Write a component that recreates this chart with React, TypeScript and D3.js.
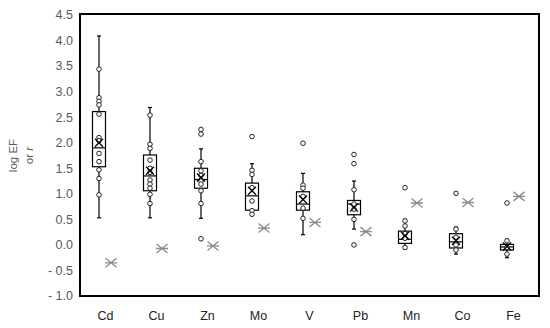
import React from 'react';
import * as d3 from 'd3';

// values
const elements = ['Cd', 'Cu', 'Zn', 'Mo', 'V', 'Pb', 'Mn', 'Co', 'Fe'];
const whiskerLow = [0.53, 0.53, 0.52, 0.59, 0.2, 0.31, -0.08, -0.18, -0.25];
const q1 = [1.53, 1.06, 1.11, 0.68, 0.68, 0.59, 0.03, -0.06, -0.1];
const medians = [1.9, 1.35, 1.28, 0.96, 0.8, 0.8, 0.11, 0.06, -0.04];
const q3 = [2.61, 1.76, 1.5, 1.21, 1.04, 0.87, 0.27, 0.22, 0.01];
const whiskerHigh = [4.09, 2.69, 1.88, 1.59, 1.4, 1.25, 0.5, 0.35, 0.11];
const means = [2.0, 1.45, 1.32, 1.06, 0.89, 0.73, 0.18, 0.08, -0.03];
const correlation = [-0.35, -0.07, -0.02, 0.33, 0.44, 0.26, 0.82, 0.83, 0.95];
const samplePoints = [
  [3.44, 2.88, 2.81, 2.74, 2.56, 2.1, 2.04, 1.79, 1.63, 1.47, 1.3, 0.98],
  [2.54, 1.97, 1.89, 1.66, 1.5, 1.42, 1.27, 1.19, 1.11, 0.99, 0.81],
  [2.26, 2.17, 1.63, 1.45, 1.36, 1.25, 1.19, 1.06, 0.81, 0.12],
  [2.12, 1.46, 1.38, 1.12, 0.86, 0.67, 0.6],
  [1.99, 1.17, 1.11, 0.95, 0.72, 0.52],
  [1.77, 1.59, 1.08, 0.8, 0.7, 0.5, 0.0],
  [1.12, 0.47, 0.37, 0.22, 0.13, -0.05],
  [1.01, 0.31, 0.15, 0.0, -0.1],
  [0.82, 0.08, -0.05, -0.18],
];
const yTicks = [-1, -0.5, 0, 0.5, 1, 1.5, 2, 2.5, 3, 3.5, 4, 4.5];

const W = 550;
const H = 328;
const left = 80;
const right = 539;
const top = 15;
const bottom = 296;
const font = '"Liberation Sans", Arial, sans-serif';

function fmt(v: number) {
  const s = Math.abs(v).toFixed(1);
  return v < 0 ? '- ' + s : s;
}

export default function App() {
  const x = d3.scaleBand().domain(elements).range([left, right]).padding(0);
  const y = d3.scaleLinear().domain([-1, 4.5]).range([bottom, top]);
  const bw = x.bandwidth();
  const boxW = 13;

  return (
    <svg width={W} height={H} style={{ position: 'absolute', left: 0, top: 0, background: '#fff' }}>
      {/* y tick labels */}
      {yTicks.map((t) => (
        <text key={t} x={73} y={y(t)} dy="0.35em" textAnchor="end" fontFamily={font} fontSize={12.5} fill="#595959">
          {fmt(t)}
        </text>
      ))}
      {/* y title */}
      <g transform={`translate(17, ${(top + bottom) / 2}) rotate(-90)`} fontFamily={font} fontSize={11.5} fill="#595959" textAnchor="middle">
        <text x={0} y={0}>log EF</text>
        <text x={0} y={16}>
          or <tspan fontStyle="italic">r</tspan>
        </text>
      </g>

      {/* boxes */}
      {elements.map((e, i) => {
        const cx = (x(e) as number) + bw / 2 - 6.5;
        const sx = (x(e) as number) + bw / 2 + 5.5;
        const m = y(means[i]);
        const r = y(correlation[i]);
        return (
          <g key={e}>
            <line x1={cx} x2={cx} y1={y(whiskerHigh[i])} y2={y(whiskerLow[i])} stroke="#000" strokeWidth={1.2} />
            <line x1={cx - 2} x2={cx + 2} y1={y(whiskerHigh[i])} y2={y(whiskerHigh[i])} stroke="#000" strokeWidth={1.2} />
            <line x1={cx - 2} x2={cx + 2} y1={y(whiskerLow[i])} y2={y(whiskerLow[i])} stroke="#000" strokeWidth={1.2} />
            <rect x={cx - boxW / 2} y={y(q3[i])} width={boxW} height={y(q1[i]) - y(q3[i])} fill="#fff" stroke="#000" strokeWidth={1.2} />
            <line x1={cx - boxW / 2} x2={cx + boxW / 2} y1={y(medians[i])} y2={y(medians[i])} stroke="#000" strokeWidth={1.2} />
            {samplePoints[i].map((p, j) => (
              <circle key={j} cx={cx} cy={y(p)} r={2.3} fill="#fff" stroke="#222" strokeWidth={1} />
            ))}
            <path d={`M${cx - 4},${m - 4}L${cx + 4},${m + 4}M${cx - 4},${m + 4}L${cx + 4},${m - 4}`} stroke="#000" strokeWidth={1.3} />
            {/* correlation star */}
            <path
              d={`M${sx - 5.5},${r - 4.5}L${sx + 5.5},${r + 4.5}M${sx - 5.5},${r + 4.5}L${sx + 5.5},${r - 4.5}M${sx - 6},${r}L${sx + 6},${r}`}
              stroke="#8c8c8c"
              strokeWidth={1.3}
              fill="none"
            />
          </g>
        );
      })}

      {/* frame */}
      <rect x={left} y={top - 1} width={right - left} height={bottom - top + 1} fill="none" stroke="#000" strokeWidth={2} />

      {/* category labels */}
      {elements.map((e) => (
        <text key={e} x={(x(e) as number) + bw / 2} y={316} dy="0.35em" textAnchor="middle" fontFamily={font} fontSize={12.5} fill="#222">
          {e}
        </text>
      ))}
    </svg>
  );
}
